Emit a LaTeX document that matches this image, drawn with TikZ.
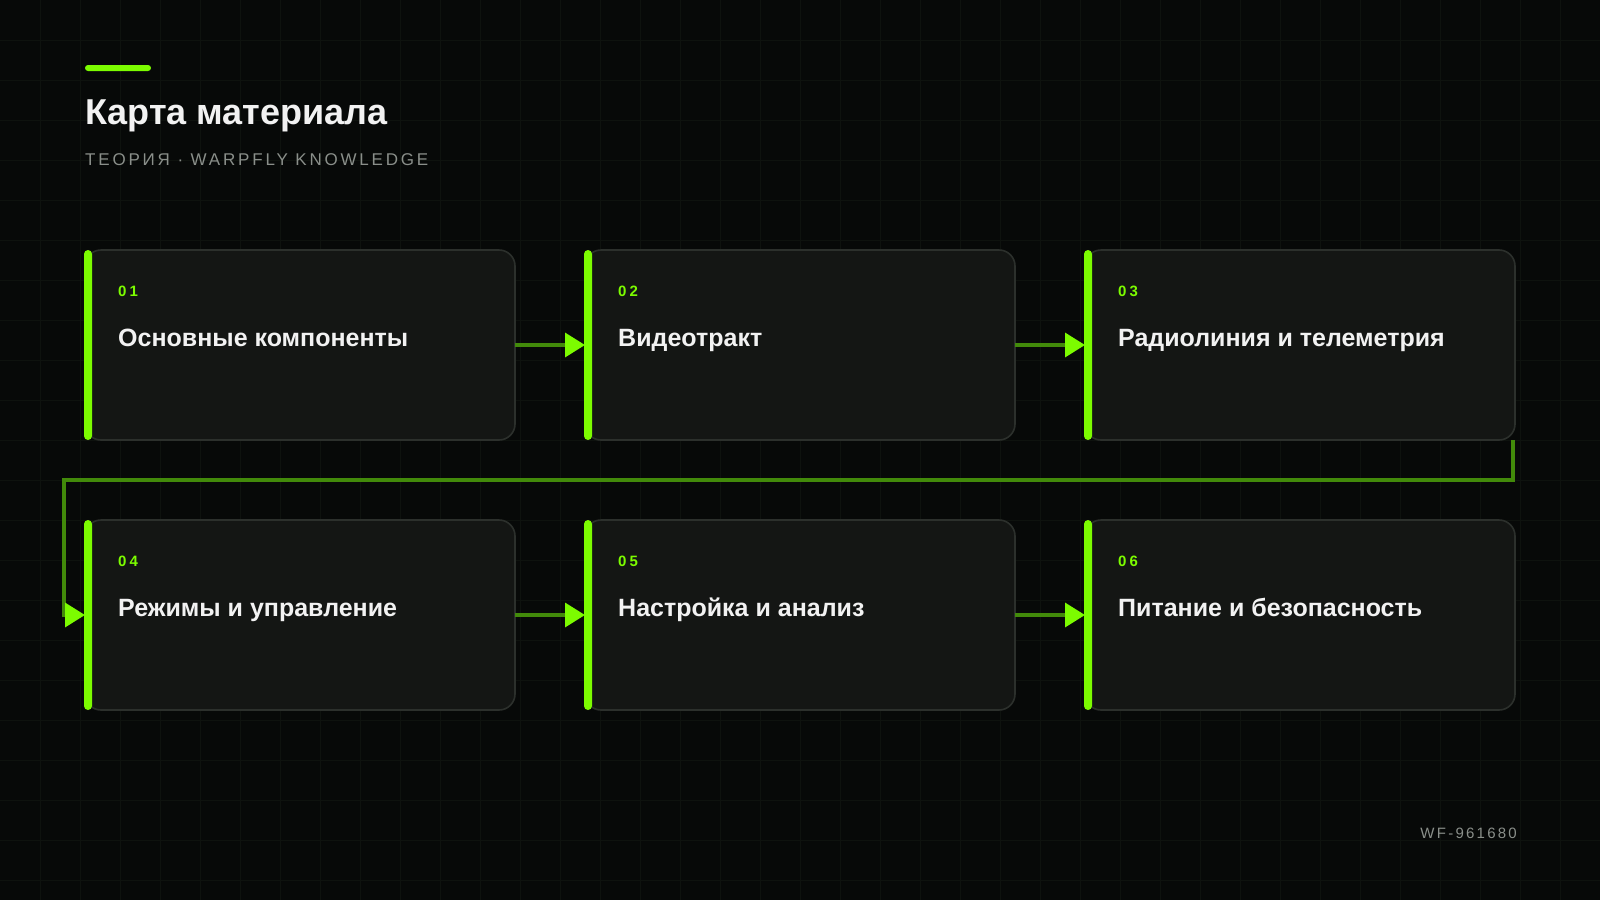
\documentclass[tikz,border=0pt]{standalone}
\usepackage{fontspec}
\setmainfont{Liberation Sans}
\newfontfamily\numfont[LetterSpace=20]{Liberation Sans}
\newfontfamily\subfont[LetterSpace=16.5]{Liberation Sans}
\newfontfamily\idfont[LetterSpace=15]{Liberation Sans}
\usetikzlibrary{arrows.meta,calc}
\definecolor{bgc}{HTML}{070908}
\definecolor{gridc}{HTML}{0E120E}
\definecolor{cardfill}{HTML}{141614}
\definecolor{cardline}{HTML}{2C302C}
\definecolor{lime}{HTML}{7CFC00}
\definecolor{connc}{HTML}{428A0A}
\definecolor{greytext}{HTML}{8A8F8A}
\definecolor{whitetext}{HTML}{F2F2F2}
\tikzset{
  card/.style={draw=cardline, line width=1.6pt, fill=cardfill, rounded corners=16pt,
    minimum width=430pt, minimum height=190pt, inner sep=0pt, outer sep=0pt},
  accent/.style={fill=lime, draw=none, rounded corners=4pt},
  numtxt/.style={anchor=base west, inner sep=0pt, text=lime, font=\numfont\bfseries\fontsize{15}{18}\selectfont},
  cardtxt/.style={anchor=base west, inner sep=0pt, text=whitetext, font=\bfseries\fontsize{25}{29}\selectfont},
  conn/.style={draw=connc, line width=3.5pt, -{Triangle[length=20pt,width=24pt,color=lime,fill=lime]}},
}
\begin{document}
\begin{tikzpicture}[x=1pt,y=-1pt]
\useasboundingbox (0,0) rectangle (1600,900);
\fill[bgc] (0,0) rectangle (1600,900);
\foreach \gx in {40,80,...,1560} \draw[gridc, line width=0.8pt] (\gx,0) -- (\gx,900);
\foreach \gy in {40,80,...,880} \draw[gridc, line width=0.8pt] (0,\gy) -- (1600,\gy);
% header
\fill[lime, rounded corners=3pt] (85,65) rectangle (151,71);
\node[anchor=base west, inner sep=0pt, text=whitetext, font=\bfseries\fontsize{36}{42}\selectfont] (title) at (85,124.5) {Карта материала};
\node[anchor=base west, inner sep=0pt, text=greytext, font=\subfont\fontsize{17}{20}\selectfont] (subtitle) at (85,165.5) {ТЕОРИЯ · WARPFLY KNOWLEDGE};
\node[anchor=base east, inner sep=0pt, text=greytext, font=\idfont\fontsize{15}{18}\selectfont] (docid) at (1517,838) {WF-961680};
% cards
\foreach \n/\cx/\cy/\num/\txt in {
  c1/300/345/01/Основные компоненты,
  c2/800/345/02/Видеотракт,
  c3/1300/345/03/Радиолиния и телеметрия,
  c4/300/615/04/Режимы и управление,
  c5/800/615/05/Настройка и анализ,
  c6/1300/615/06/Питание и безопасность}{
  \node[card] (\n) at (\cx,\cy) {};
  \fill[accent] ($(\n.north west)+(-1,0)$) rectangle ($(\n.south west)+(7,0)$);
  \node[numtxt] (\n num) at ($(\n.north west)+(33,46)$) {\num};
  \node[cardtxt] (\n txt) at ($(\n.north west)+(33,96)$) {\txt};
}
% connectors
\draw[conn] (c1.east) -- (c2.west);
\draw[conn] (c2.east) -- (c3.west);
\draw[conn] (c4.east) -- (c5.west);
\draw[conn] (c5.east) -- (c6.west);
\coordinate (turnR) at (1513,480);
\coordinate (turnL) at (64,480);
\draw[conn] (c3.south -| turnR) -- (turnR) -- (turnL) |- (c4.west);
\end{tikzpicture}
\end{document}
